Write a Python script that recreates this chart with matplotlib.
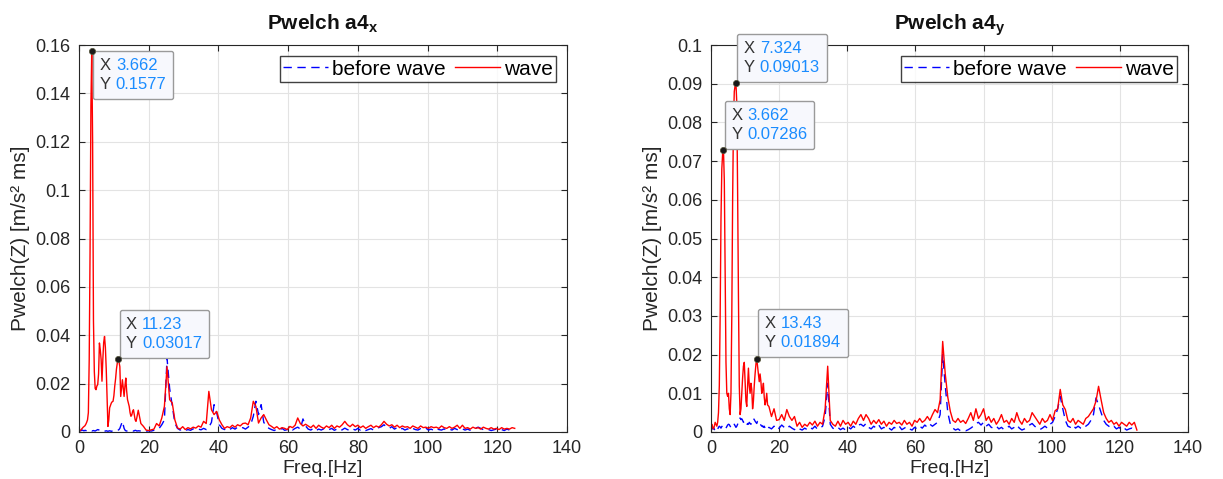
import numpy as np
import matplotlib
matplotlib.use("Agg")
import matplotlib.pyplot as plt
from matplotlib.offsetbox import TextArea, HPacker, VPacker, AnnotationBbox

plt.rcParams['font.family'] = ['Liberation Sans', 'DejaVu Sans']
plt.rcParams['mathtext.fontset'] = 'custom'
plt.rcParams['mathtext.rm'] = 'Liberation Sans'
plt.rcParams['mathtext.bf'] = 'Liberation Sans:bold'

# frequency axis [Hz]: fine bins below 17 Hz, coarser above
freq = [
    0.0, 0.244, 0.488, 0.732, 0.977, 1.221, 1.465, 1.709, 1.953, 2.197, 2.441, 2.686,
    2.930, 3.174, 3.418, 3.662, 3.906, 4.150, 4.395, 4.639, 4.883, 5.127, 5.371, 5.615,
    5.859, 6.104, 6.348, 6.592, 6.836, 7.080, 7.324, 7.568, 7.813, 8.057, 8.301, 8.545,
    8.789, 9.033, 9.277, 9.521, 9.766, 10.010, 10.254, 10.498, 10.742, 10.986, 11.230, 11.475,
    11.719, 11.963, 12.207, 12.451, 12.695, 12.939, 13.184, 13.428, 13.672, 13.916, 14.160, 14.404,
    14.648, 14.893, 15.137, 15.381, 15.625, 15.869, 16.113, 16.357, 16.602,
    17, 17.75, 18.5, 19.25, 20, 20.75, 21.5, 22.25, 23, 23.75, 24.5, 25.25,
    26, 26.75, 27.5, 28.25, 29, 29.75, 30.5, 31.25, 32, 32.75, 33.5, 34.25,
    35, 35.75, 36.5, 37.25, 38, 38.75, 39.5, 40.25, 41, 41.75, 42.5, 43.25,
    44, 44.75, 45.5, 46.25, 47, 47.75, 48.5, 49.25, 50, 50.75, 51.5, 52.25,
    53, 53.75, 54.5, 55.25, 56, 56.75, 57.5, 58.25, 59, 59.75, 60.5, 61.25,
    62, 62.75, 63.5, 64.25, 65, 65.75, 66.5, 67.25, 68, 68.75, 69.5, 70.25,
    71, 71.75, 72.5, 73.25, 74, 74.75, 75.5, 76.25, 77, 77.75, 78.5, 79.25,
    80, 80.75, 81.5, 82.25, 83, 83.75, 84.5, 85.25, 86, 86.75, 87.5, 88.25,
    89, 89.75, 90.5, 91.25, 92, 92.75, 93.5, 94.25, 95, 95.75, 96.5, 97.25,
    98, 98.75, 99.5, 100.25, 101, 101.75, 102.5, 103.25, 104, 104.75, 105.5, 106.25,
    107, 107.75, 108.5, 109.25, 110, 110.75, 111.5, 112.25, 113, 113.75, 114.5, 115.25,
    116, 116.75, 117.5, 118.25, 119, 119.75, 120.5, 121.25, 122, 122.75, 123.5, 124.25,
    125,
]

# PSD values in 1e-3 units
ax_before = [
    0.4, 0.6, 0.5, 0.7, 0.8, 0.6, 0.5, 0.7, 0.6, 0.4, 0.5, 0.6,
    0.8, 0.7, 0.5, 0.4, 0.5, 0.6, 0.5, 0.4, 0.6, 0.8, 1.0, 0.9,
    0.7, 0.5, 0.4, 0.5, 0.6, 0.4, 0.3, 0.4, 0.5, 0.4, 0.3, 0.4,
    0.5, 0.4, 0.3, 0.4, 0.5, 0.6, 0.5, 0.4, 0.5, 0.7, 0.8, 1.0,
    1.5, 2.5, 3.5, 4.4, 3.0, 1.5, 0.8, 0.5, 0.4, 0.5, 0.6, 0.5,
    0.4, 0.5, 0.6, 0.5, 0.4, 0.5, 0.7, 0.6, 0.4,
    0.5, 0.4, 0.6, 0.3, 0.5, 0.4, 0.7, 1.0, 1.5, 3.0, 5.0, 30.6,
    18, 11, 3.7, 1.5, 0.8, 1.2, 0.6, 1.0, 0.7, 1.3, 0.8, 1.2,
    0.9, 1.5, 1.0, 2.0, 4.0, 11.3, 8.0, 3.0, 1.5, 1.0, 1.6, 1.0,
    1.8, 1.2, 2.0, 1.5, 1.8, 1.2, 2.0, 3.0, 6.5, 12.7, 7.2, 11.3,
    4.0, 2.5, 1.5, 1.0, 0.6, 1.2, 0.8, 1.5, 0.7, 1.0, 1.6, 0.8,
    1.5, 2.0, 1.2, 5.4, 2.5, 1.2, 0.8, 1.5, 0.6, 1.2, 0.8, 1.4,
    0.6, 1.0, 1.5, 0.7, 1.2, 0.5, 0.9, 1.6, 1.0, 0.6, 1.3, 0.8,
    1.5, 0.7, 1.2, 0.6, 1.0, 1.4, 0.8, 1.2, 1.8, 2.2, 3.0, 2.0,
    1.5, 2.2, 1.2, 1.8, 1.0, 1.5, 0.8, 1.3, 0.7, 1.5, 1.0, 0.8,
    1.4, 0.9, 1.6, 0.8, 1.2, 0.7, 1.5, 1.0, 0.8, 1.3, 0.7, 1.2,
    0.8, 1.5, 1.0, 0.7, 1.3, 0.8, 1.2, 0.7, 1.0, 1.5, 2.0, 1.5,
    1.0, 0.7, 1.0, 0.6, 0.9, 1.2, 0.7, 1.0, 0.6, 1.2, 0.8, 1.0,
    0.6,
]
ax_wave = [
    0.3, 0.5, 0.8, 1.2, 1.6, 2.0, 2.3, 2.6, 3.2, 4.0, 5.0, 8.0,
    30, 75, 135, 157.7, 120, 46, 25, 18, 17.5, 19, 19.6, 24,
    36.8, 34, 30, 21, 30, 37, 39.5, 35, 26, 14, 2.3, 5,
    10, 11, 12, 12.5, 12.7, 15, 19, 22, 26, 28.5, 30.17, 29,
    27, 14.7, 18, 21.6, 18, 14.7, 19, 22.3, 17, 13.4, 12, 10.6,
    8, 6.5, 7, 8.5, 9.2, 7, 5, 4.4, 6,
    9, 3.5, 2.3, 0.8, 0.6, 0.9, 1.2, 3.5, 2.5, 5.8, 10.6, 27,
    13.4, 12, 5, 1.7, 1.2, 2.2, 1.0, 1.8, 1.3, 2.0, 1.6, 2.5,
    2.0, 4.4, 3.5, 16.8, 9.2, 7.2, 8.5, 5, 3, 1.5, 2.2, 1.8,
    2.8, 2, 3, 2.5, 3.5, 3.7, 3, 5.8, 12.7, 10.6, 3.7, 5.8,
    7.2, 5, 3, 2.3, 1.5, 2.2, 1.2, 1.8, 1.5, 1.0, 2.3, 1.8,
    2.8, 5.8, 3.5, 2.5, 3.2, 2.5, 1.8, 2.8, 1.5, 2.8, 2.0, 1.5,
    2.5, 1.8, 2.8, 1.5, 2.5, 2.0, 3.0, 4.4, 3.0, 2.2, 3.2, 2.2,
    2.8, 1.8, 2.5, 1.5, 2.2, 2.8, 1.8, 2.5, 2.0, 3.0, 4.4, 3.2,
    2.5, 3.0, 2.0, 2.8, 1.8, 2.5, 2.0, 2.2, 1.5, 2.5, 2.0, 1.5,
    2.5, 1.8, 2.0, 1.5, 2.2, 1.8, 2.0, 1.5, 2.5, 1.8, 1.5, 2.2,
    1.5, 2.0, 2.8, 1.5, 2.8, 1.5, 1.8, 1.2, 2.0, 1.5, 1.8, 1.2,
    2.0, 1.5, 1.2, 1.8, 1.2, 1.5, 1.0, 1.8, 1.2, 1.5, 1.2, 1.8,
    1.5,
]
ay_before = [
    0.5, 1.0, 0.8, 1.2, 0.6, 0.9, 1.3, 1.0, 0.7, 1.2, 1.5, 1.3,
    1.0, 1.4, 1.6, 1.5, 1.2, 0.8, 1.0, 1.4, 1.8, 2.0, 1.9, 1.5,
    1.2, 1.0, 1.4, 1.8, 2.0, 1.6, 1.2, 1.5, 2.0, 2.8, 3.5, 3.6,
    3.2, 3.4, 3.0, 2.5, 2.8, 2.2, 2.0, 1.8, 2.2, 2.0, 2.5, 2.2,
    2.0, 2.5, 3.0, 3.5, 3.2, 2.8, 2.5, 2.2, 2.8, 3.0, 2.5, 2.0,
    1.8, 1.5, 1.6, 1.2, 1.5, 1.0, 1.3, 1.5, 1.0,
    1.2, 0.8, 1.5, 0.6, 1.0, 1.8, 1.2, 0.8, 1.5, 1.0, 0.6, 1.2,
    0.8, 0.5, 1.0, 0.6, 1.2, 0.8, 1.5, 0.7, 1.0, 1.5, 4.0, 12.6,
    2.0, 1.0, 0.7, 1.2, 0.6, 1.0, 0.5, 1.3, 0.8, 1.5, 1.0, 1.8,
    2.0, 1.5, 2.2, 1.2, 0.8, 1.5, 1.0, 1.8, 0.8, 1.2, 0.6, 1.0,
    0.5, 1.2, 0.8, 1.5, 0.6, 1.0, 1.4, 0.8, 0.5, 1.2, 0.8, 1.5,
    1.0, 1.8, 1.2, 2.0, 1.5, 2.0, 2.5, 4.5, 20, 12, 5, 2,
    1.0, 0.5, 0.8, 0.3, 0.4, 0.3, 0.6, 1.0, 1.5, 2.2, 2.5, 1.8,
    2.5, 1.5, 2.0, 1.2, 1.0, 1.5, 0.8, 1.2, 0.6, 1.0, 1.5, 0.8,
    1.2, 1.8, 1.0, 0.5, 0.8, 1.2, 1.8, 2.2, 1.5, 1.0, 0.6, 1.0,
    1.5, 1.0, 2.0, 2.5, 4.0, 6.0, 9.2, 6.0, 3.0, 1.5, 1.2, 1.8,
    1.0, 1.5, 1.0, 0.8, 1.5, 2.0, 3.0, 4.5, 8.8, 7.0, 5.0, 3.0,
    2.0, 1.5, 1.0, 1.5, 0.8, 1.2, 0.6, 1.0, 0.5, 0.8, 1.0, 0.6,
    0.3,
]
ay_wave = [
    1.5, 2.0, 1.2, 0.8, 1.5, 2.5, 2.0, 1.5, 2.5, 5, 12, 30,
    55, 68, 72, 72.86, 65, 40, 18, 10, 9.2, 10, 6, 4.5,
    10, 30, 60, 80, 88, 89.5, 90.13, 85, 62, 35, 12, 4.5,
    6, 10, 14, 17, 18, 13, 8, 6.6, 12, 16.5, 12, 10,
    12.6, 11, 6, 8, 12, 15, 17.5, 18.94, 17, 15, 13, 15,
    13, 10, 11, 12.6, 9, 7, 8, 10, 7,
    6.6, 4, 6, 3, 3.2, 4.5, 3, 5.8, 4, 3, 4, 1.5,
    2.5, 1.2, 2.0, 1.5, 2.5, 1.8, 2.8, 1.5, 2.5, 2, 6, 17,
    3, 2, 1.5, 2.8, 1.5, 3, 2, 2.5, 1.5, 2.8, 2, 3.5,
    4.5, 3, 4.5, 3.5, 2, 3, 2.2, 3.2, 2, 2.8, 1.5, 2.5,
    2, 3, 2.2, 2.5, 1.8, 3, 2, 2.5, 1.5, 3, 2.5, 3.5,
    2.5, 3, 4, 3, 4.5, 5.8, 5, 8.3, 23.4, 15, 9, 5.3,
    3, 2.5, 3.5, 2.5, 3, 2.2, 3.5, 5, 3, 6, 3.5, 4.5,
    6, 3, 4, 2.5, 3.5, 2, 3, 4.5, 2.5, 3, 2, 3.5,
    2.5, 5, 3, 2, 3.5, 2.5, 3, 5, 4, 3, 2, 3.5,
    2.5, 3, 4.5, 3, 5.5, 6, 11, 7, 5.8, 3, 2.5, 3.5,
    2, 3, 2.5, 2, 3.5, 4, 5, 6, 8, 11.8, 8.3, 5,
    3.5, 2.5, 3, 2, 2.5, 1.5, 2.5, 2, 1.5, 2.5, 1.8, 2.5,
    0.5,
]

# data tips: (frequency, value, box placement)
tips_x = [(3.662, 0.1577, 'below'), (11.23, 0.03017, 'above')]
tips_y = [(7.324, 0.09013, 'above'), (3.662, 0.07286, 'above'), (13.43, 0.01894, 'above')]

freq = np.array(freq)
panels = [
    ("x", np.array(ax_before) * 1e-3, np.array(ax_wave) * 1e-3, 0.16, 0.02, tips_x),
    ("y", np.array(ay_before) * 1e-3, np.array(ay_wave) * 1e-3, 0.1, 0.01, tips_y),
]

fig = plt.figure(figsize=(12.23, 4.79), dpi=100)
rects = [[79 / 1223, 47 / 479, 488 / 1223, 387 / 479],
         [711 / 1223, 47 / 479, 477 / 1223, 387 / 479]]

txt_col = '#262626'
tip_blue = '#1a8cff'

for rect, (comp, before, wave, ymax, ystep, tips) in zip(rects, panels):
    ax = fig.add_axes(rect)
    ax.plot(freq, before, color='#0000ff', lw=1.0, ls=(0, (6, 4)), label='before wave')
    ax.plot(freq, wave, color='#ff0000', lw=1.0, label='wave')
    ax.set_xlim(0, 140)
    ax.set_ylim(0, ymax)
    ax.set_xticks(np.arange(0, 141, 20))
    yt = np.round(np.arange(0, ymax + ystep / 2, ystep), 3)
    ax.set_yticks(yt)
    ax.set_yticklabels(['0' if v == 0 else ('%g' % v) for v in yt])
    ax.grid(True, color='#e3e3e3', lw=0.8)
    ax.set_axisbelow(True)
    ax.tick_params(direction='in', top=True, right=True, labelsize=13,
                   colors=txt_col, length=4, width=0.8, pad=6)
    for s in ax.spines.values():
        s.set_color(txt_col)
        s.set_linewidth(0.8)
    ax.set_title(r'Pwelch a4$_{\mathbf{%s}}$' % comp, fontsize=15, fontweight='bold',
                 color='#111111', pad=11)
    ax.set_xlabel('Freq.[Hz]', fontsize=14, color=txt_col, labelpad=2)
    ax.set_ylabel('Pwelch(Z) [m/s² ms]', fontsize=15, color=txt_col, labelpad=4)
    leg = ax.legend(loc='upper right', ncol=2, fontsize=15, frameon=True,
                    fancybox=False, edgecolor='#111111', handlelength=2.2,
                    handletextpad=0.15, columnspacing=0.45, borderpad=0.15,
                    borderaxespad=0.55)
    leg.get_frame().set_linewidth(1.0)

    for f, v, where in tips:
        ax.plot([f], [v], 'o', color='#1a1a1a', ms=4.5, mec='#55553a', mew=0.5,
                zorder=8, clip_on=False)
        rows = []
        for lab, val in (('X ', '%g' % f), ('Y ', '%g' % v)):
            rows.append(HPacker(children=[
                TextArea(lab, textprops=dict(color='#333333', fontsize=12)),
                TextArea(val, textprops=dict(color=tip_blue, fontsize=12))],
                pad=0, sep=0))
        box = VPacker(children=rows, pad=0, sep=3, align='left')
        if where == 'below':
            align, off = (0, 1), (6, -5)
        else:
            align, off = (0, 0), (6, 6)
        ab = AnnotationBbox(box, (f, v), xybox=off, boxcoords='offset points',
                            box_alignment=align, frameon=True,
                            annotation_clip=False, zorder=7,
                            bboxprops=dict(boxstyle='round,pad=0.5,rounding_size=0.15',
                                           fc='#f7f8fd', ec='#9a9a9a', lw=1.0))
        ax.add_artist(ab)

fig.savefig('out.png', dpi=100)
